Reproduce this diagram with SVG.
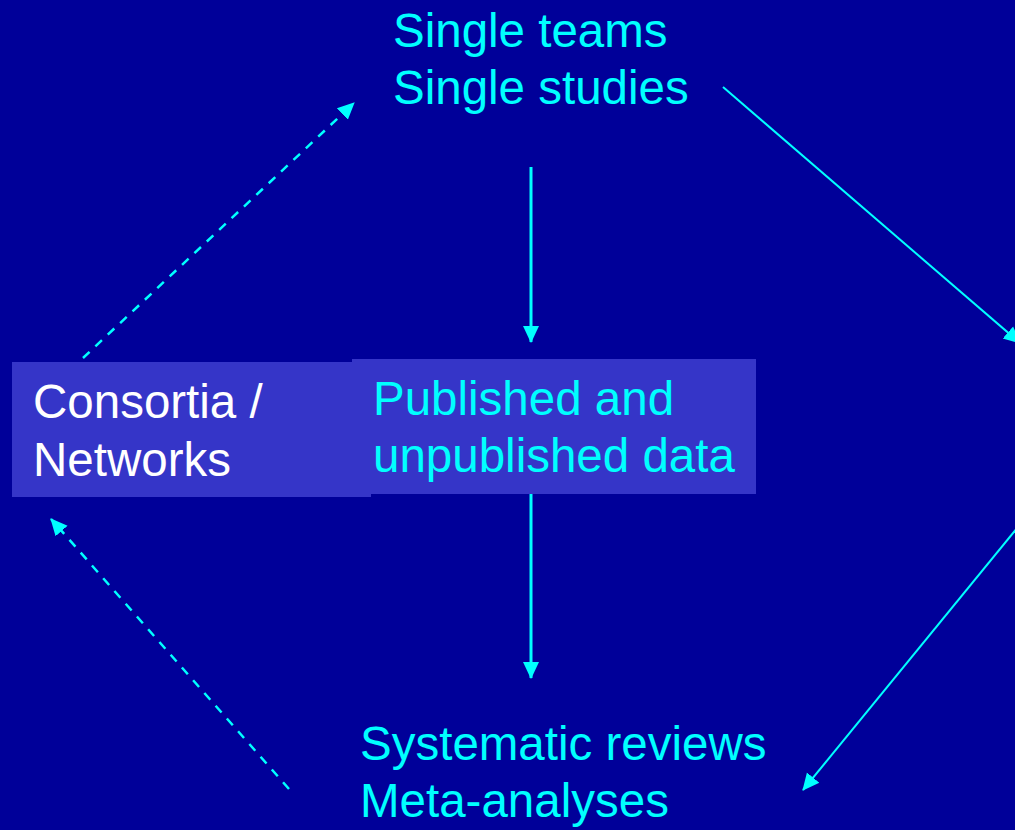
<svg xmlns="http://www.w3.org/2000/svg" width="1015" height="830" viewBox="0 0 1015 830">
<style>
.t{font-family:"Liberation Sans",Arial,sans-serif;font-size:47.5px;fill:#00FFFF}
.w{fill:#FFFFFF}
.box{fill:#3535C8}
.s{stroke:#00FFFF;fill:none}
</style>
<defs>
<marker id="ah" markerUnits="userSpaceOnUse" markerWidth="18" markerHeight="18" viewBox="0 0 18 18" refX="16" refY="9" orient="auto">
<path d="M0,1 L17,9 L0,17 Z" fill="#00FFFF"/>
</marker>
</defs>
<rect width="1015" height="830" fill="#000099"/>
<g id="connectors">
<line class="s" x1="531" y1="167" x2="531" y2="342" stroke-width="3" marker-end="url(#ah)"/>
<line class="s" x1="531" y1="494" x2="531" y2="678" stroke-width="3" marker-end="url(#ah)"/>
<line class="s" x1="723" y1="87" x2="1020" y2="343" stroke-width="2" marker-end="url(#ah)"/>
<line class="s" x1="1022" y1="522" x2="803" y2="790" stroke-width="2" marker-end="url(#ah)"/>
<line class="s" x1="83" y1="358" x2="354" y2="103" stroke-width="2.5" stroke-dasharray="9 8" marker-end="url(#ah)"/>
<line class="s" x1="289" y1="789" x2="51" y2="519" stroke-width="2.5" stroke-dasharray="9 8" marker-end="url(#ah)"/>
</g>
<g id="single">
<text class="t" x="393" y="47">Single teams</text>
<text class="t" x="393" y="104">Single studies</text>
</g>
<g id="consortia">
<rect class="box" x="12" y="362" width="359" height="135"/>
<text class="t w" x="33" y="418">Consortia /</text>
<text class="t w" x="33" y="476">Networks</text>
</g>
<g id="published">
<rect class="box" x="352" y="359" width="404" height="135"/>
<text class="t" x="373" y="415">Published and</text>
<text class="t" x="373" y="472">unpublished data</text>
</g>
<g id="reviews">
<text class="t" x="360" y="760">Systematic reviews</text>
<text class="t" x="360" y="817">Meta-analyses</text>
</g>
</svg>
